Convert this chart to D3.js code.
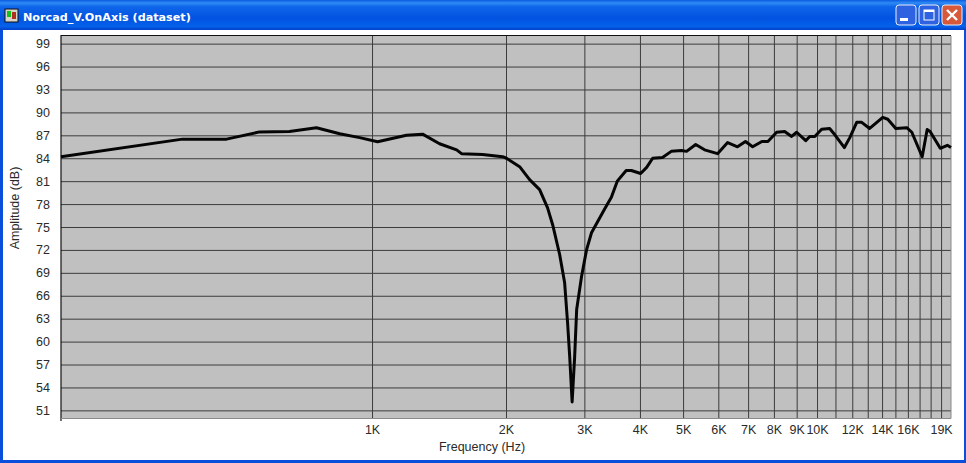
<!DOCTYPE html>
<html>
<head>
<meta charset="utf-8">
<title>Norcad_V.OnAxis (dataset)</title>
<script src="https://cdn.jsdelivr.net/npm/d3@7"></script>
<style>
  html, body { margin: 0; padding: 0; background: #fff; overflow: hidden; }
  svg { display: block; }
  text { font-family: "Liberation Sans", Arial, sans-serif; }
  .axis path { display: none; }
  .axis line { stroke: #3c3c3c; }
  .axis text { font-size: 12.5px; fill: #2a2a2a; }
</style>
</head>
<body>
<div id="chart"></div>
<script>
const windowTitle = "Norcad_V.OnAxis (dataset)";
const xLabel = "Frequency (Hz)";
const yLabel = "Amplitude (dB)";

const freqs = [200, 375, 471, 559, 652, 750, 846, 938, 1029, 1195, 1299, 1418, 1549, 1589, 1772, 1965,
  2005, 2146, 2260, 2380, 2480, 2546, 2640, 2709, 2751, 2781, 2816, 2853, 2883, 2956,
  3034, 3113, 3327, 3450, 3557, 3725, 3825, 4015, 4141, 4272, 4495, 4703, 4962, 5091, 5337, 5588, 5976,
  6296, 6626, 6905, 7165, 7518, 7755, 8112, 8457, 8768, 9000, 9430, 9630, 9886,
  10241, 10674, 10955, 11520, 11848, 12277, 12600, 13130, 14050, 14420, 15030, 15910, 16330, 17230, 17680, 17950, 18920, 19620, 20000];
const amps = [84.2, 86.5, 86.5, 87.45, 87.5, 88.0, 87.2, 86.7, 86.15, 87.0, 87.15, 85.9, 85.1, 84.6, 84.5, 84.2,
  84.0, 82.9, 81.2, 79.9, 77.5, 75.3, 71.4, 67.7, 62.4, 58.0, 52.1, 58.0, 64.2, 68.5,
  72.0, 74.25, 77.3, 78.9, 81.0, 82.4, 82.4, 82.0, 82.8, 84.0, 84.1, 84.9, 85.0, 84.9, 85.8, 85.1, 84.6,
  86.05, 85.5, 86.2, 85.5, 86.2, 86.2, 87.4, 87.5, 86.85, 87.4, 86.3, 86.85, 86.85,
  87.8, 87.9, 87.1, 85.4, 86.7, 88.7, 88.7, 87.9, 89.35, 89.1, 87.9, 88.0, 87.4, 84.2, 87.75, 87.5, 85.3, 85.7, 85.4];

const yTicks = [99, 96, 93, 90, 87, 84, 81, 78, 75, 72, 69, 66, 63, 60, 57, 54, 51];
const xGrid = [1000, 2000, 3000, 4000, 5000, 6000, 7000, 8000, 9000, 10000, 11000, 12000, 13000, 14000, 15000, 16000, 17000, 18000, 19000];
const xLabelled = [1000, 2000, 3000, 4000, 5000, 6000, 7000, 8000, 9000, 10000, 12000, 14000, 16000, 19000];

const W = 966, H = 463;
const margin = { top: 36, right: 15, bottom: 45, left: 61 };

const svg = d3.select("#chart").append("svg")
  .attr("width", W)
  .attr("height", H);

// window frame, the XP look
const defs = svg.append("defs");
const grad = defs.append("linearGradient")
  .attr("id", "titlebar")
  .attr("x1", 0).attr("x2", 0).attr("y1", 0).attr("y2", 1);
[[0, "#0a5be0"], [0.1, "#2f8bf5"], [0.22, "#0f66ea"], [0.6, "#0253e0"], [0.88, "#0460ea"], [1, "#0340c8"]]
  .forEach(s => grad.append("stop").attr("offset", s[0]).attr("stop-color", s[1]));

svg.append("rect").attr("width", W).attr("height", H).attr("fill", "#0a4fdc");
svg.append("rect").attr("width", W).attr("height", 30).attr("fill", "url(#titlebar)");
svg.append("rect").attr("x", 3).attr("y", 30).attr("width", W - 5).attr("height", H - 33).attr("fill", "#fff");

// title icon
svg.append("rect").attr("x", 5).attr("y", 9).attr("width", 13).attr("height", 13)
  .attr("fill", "#d8d4c8").attr("stroke", "#111");
svg.append("rect").attr("x", 7).attr("y", 11).attr("width", 4).attr("height", 6).attr("fill", "#10c020");
svg.append("rect").attr("x", 12).attr("y", 12).attr("width", 4).attr("height", 7).attr("fill", "#b03020");

svg.append("text")
  .attr("x", 23).attr("y", 21)
  .attr("fill", "#fff")
  .style("font-family", "'DejaVu Sans', sans-serif")
  .style("font-size", "11.2px")
  .style("font-weight", "bold")
  .text(windowTitle);

// min / max / close buttons
const buttons = [{ x: 896, fill: "#2f62e0" }, { x: 919, fill: "#2f62e0" }, { x: 942, fill: "#d8583a" }];
svg.selectAll(".btn")
  .data(buttons)
  .enter()
  .append("rect")
  .attr("class", "btn")
  .attr("x", d => d.x).attr("y", 5)
  .attr("width", 20).attr("height", 20).attr("rx", 3)
  .attr("fill", d => d.fill)
  .attr("stroke", "#e8eefc");
svg.append("rect").attr("x", 900).attr("y", 18).attr("width", 8).attr("height", 3).attr("fill", "#fff");
svg.append("rect").attr("x", 924).attr("y", 10).attr("width", 10).attr("height", 10)
  .attr("fill", "none").attr("stroke", "#fff");
svg.append("rect").attr("x", 924).attr("y", 10).attr("width", 10).attr("height", 2).attr("fill", "#fff");
svg.append("path").attr("d", "M947,10L957,20M957,10L947,20")
  .attr("stroke", "#fff").attr("stroke-width", 2.4).attr("fill", "none");

// plot
const width = W - margin.left - margin.right,
  height = H - margin.top - margin.bottom;

const x = d3.scaleLog().domain([200, 20000]).range([0, width]);
const y = d3.scaleLinear().domain([50, 100]).range([height, 0]);

const plot = svg.append("g")
  .attr("transform", "translate(" + margin.left + "," + margin.top + ")");

plot.append("rect")
  .attr("width", width)
  .attr("height", height)
  .attr("fill", "#c0c0c0");

plot.append("g")
  .attr("class", "axis")
  .call(d3.axisLeft(y).tickValues(yTicks).tickSize(-width).tickPadding(11).tickFormat(d3.format("d")));

plot.append("g")
  .attr("class", "axis")
  .attr("transform", "translate(0," + height + ")")
  .call(d3.axisBottom(x).tickValues(xGrid).tickSize(-height).tickPadding(7)
    .tickFormat(d => xLabelled.includes(d) ? (d / 1000) + "K" : ""));

// frame of the plot area
plot.append("path")
  .attr("d", d3.line()([[0, height + 3], [0, -0.5], [width, -0.5]]))
  .attr("fill", "none").attr("stroke", "#111").attr("stroke-width", 1.2);
plot.append("path")
  .attr("d", d3.line()([[0, height + 0.5], [width, height + 0.5], [width, 0]]))
  .attr("fill", "none").attr("stroke", "#8a8a8a").attr("stroke-width", 1);

const line = d3.line()
  .x(d => x(d[0]))
  .y(d => y(d[1]));

plot.append("path")
  .attr("d", line(d3.zip(freqs, amps)))
  .attr("fill", "none")
  .attr("stroke", "#050505")
  .attr("stroke-width", 3)
  .attr("stroke-linejoin", "round");

svg.append("text")
  .attr("x", 482).attr("y", 451)
  .attr("text-anchor", "middle")
  .attr("fill", "#2a2a2a")
  .style("font-size", "12.5px")
  .text(xLabel);

svg.append("text")
  .attr("transform", "translate(19,208) rotate(-90)")
  .attr("text-anchor", "middle")
  .attr("fill", "#2a2a2a")
  .style("font-size", "12.5px")
  .text(yLabel);
</script>
</body>
</html>
